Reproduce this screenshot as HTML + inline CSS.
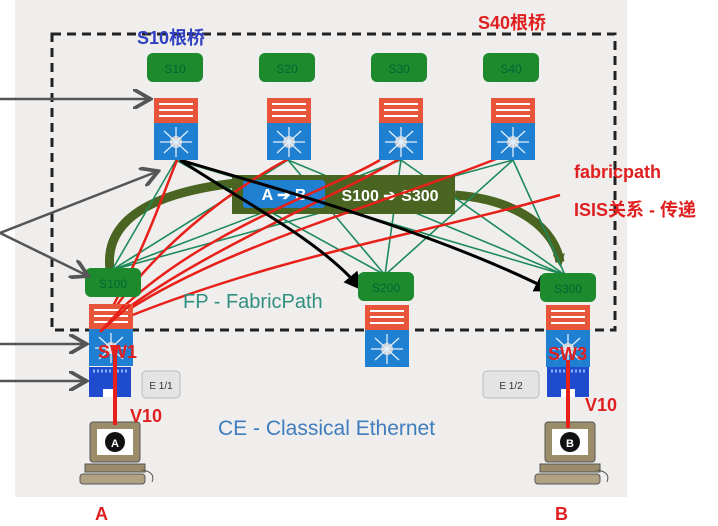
<!DOCTYPE html>
<html><head><meta charset="utf-8"><style>
html,body{margin:0;padding:0;background:#fff;width:718px;height:526px;overflow:hidden}
svg{display:block}
text{font-family:"Liberation Sans","Noto Sans CJK SC",sans-serif}
</style></head><body>
<svg width="718" height="526" viewBox="0 0 718 526" xmlns="http://www.w3.org/2000/svg">
<defs>
<g id="sw">
<rect x="0" y="0" width="44" height="25" fill="#e8553a"/>
<path d="M5 6h34M5 12h34M5 18h34" stroke="#fff" stroke-width="2"/>
<rect x="0" y="25" width="44" height="37" fill="#1f7fd0"/>
<circle cx="22" cy="44" r="6" fill="#ccc"/>
<path d="M6 44h32M22 29v30M10 33l24 22M34 33l-24 22" stroke="#e0f0ff" stroke-width="1.3"/>
</g>
<g id="lbl"><rect x="0" y="0" width="56" height="29" rx="6" fill="#1d8a2e"/></g>
<g id="ce"><rect x="0" y="0" width="42" height="30" fill="#1f4ccf"/><path d="M4 4h34" stroke="#8bb0ff" stroke-width="3" stroke-dasharray="2 2"/><rect x="14" y="22" width="14" height="8" fill="#fff"/></g>
<g id="pc">
<rect x="10" y="0" width="50" height="40" rx="3" fill="#9b8c6a" stroke="#555"/>
<rect x="17" y="7" width="36" height="26" fill="#fff"/>
<circle cx="35" cy="20" r="10" fill="#111"/>
<rect x="5" y="42" width="60" height="8" fill="#9b8c6a" stroke="#555"/>
<rect x="0" y="52" width="65" height="10" rx="3" fill="#b0a282" stroke="#555"/>
<path d="M62 48q14 2 10 12" stroke="#555" fill="none"/>
</g>
<marker id="ga" markerWidth="8" markerHeight="8" refX="6" refY="4" orient="auto"><path d="M0 0L7 4L0 8" fill="none" stroke="#555" stroke-width="1.5"/></marker>
<marker id="ba" markerWidth="6" markerHeight="6" refX="5" refY="3" orient="auto"><path d="M0 0L6 3L0 6z" fill="#000"/></marker>
<marker id="da" markerUnits="userSpaceOnUse" markerWidth="14" markerHeight="12" refX="8" refY="6" orient="auto"><path d="M0 0L14 6L0 12z" fill="#4a6421"/></marker>
</defs>
<rect x="15" y="0" width="612" height="497" fill="#f0eeec"/>
<rect x="52" y="34" width="563" height="296" fill="none" stroke="#222" stroke-width="3" stroke-dasharray="9 6"/>

<path d="M110 270 C100 190 230 180 300 180" stroke="#4a6421" stroke-width="9" fill="none"/>
<path d="M455 195 C520 200 555 230 560 262" stroke="#4a6421" stroke-width="9" fill="none" marker-end="url(#da)"/>

<g stroke="#1e8a5c" stroke-width="1.6" fill="none">
<path d="M176 160L112 270M176 160L385 275M176 160L565 275M288 160L112 270M288 160L385 275M288 160L565 275M401 160L112 270M401 160L385 275M401 160L565 275M513 160L112 270M513 160L385 275M513 160L565 275"/>
</g>
<rect x="232" y="175" width="223" height="39" fill="#4a6421"/>
<rect x="243" y="180" width="82" height="28" rx="3" fill="#1f7fd0"/>
<text x="284" y="200" font-size="16" fill="#fff" text-anchor="middle" font-weight="bold">A ➔ B</text>
<text x="390" y="201" font-size="16" fill="#fff" text-anchor="middle" font-weight="bold">S100 ➔ S300</text>

<g stroke="#e8201a" stroke-width="2.5" fill="none">
<path d="M178 158C160 200 150 240 100 330"/>
<path d="M290 158C230 190 150 250 100 330"/>
<path d="M401 158C330 200 180 260 100 330"/>
<path d="M513 152C400 200 200 250 100 330"/>
<path d="M380 160C330 190 200 230 115 315"/>
<path d="M560 195C420 235 280 255 120 320"/>
</g>
<g stroke="#000" stroke-width="3" fill="none">
<path d="M180 160C240 200 320 240 360 288" marker-end="url(#ba)"/>
<path d="M180 160C280 190 430 230 550 290" marker-end="url(#ba)"/>
</g>

<use href="#lbl" x="147" y="53"/><text x="175" y="73" font-size="12" text-anchor="middle" fill="#063">S10</text>
<use href="#lbl" x="259" y="53"/><text x="287" y="73" font-size="12" text-anchor="middle" fill="#063">S20</text>
<use href="#lbl" x="371" y="53"/><text x="399" y="73" font-size="12" text-anchor="middle" fill="#063">S30</text>
<use href="#lbl" x="483" y="53"/><text x="511" y="73" font-size="12" text-anchor="middle" fill="#063">S40</text>
<use href="#sw" x="154" y="98"/>
<use href="#sw" x="267" y="98"/>
<use href="#sw" x="379" y="98"/>
<use href="#sw" x="491" y="98"/>

<use href="#lbl" x="85" y="268"/><text x="113" y="288" font-size="12" text-anchor="middle" fill="#063">S100</text>
<use href="#lbl" x="358" y="272"/><text x="386" y="292" font-size="12" text-anchor="middle" fill="#063">S200</text>
<use href="#lbl" x="540" y="273"/><text x="568" y="293" font-size="12" text-anchor="middle" fill="#063">S300</text>
<use href="#sw" x="89" y="304"/>
<use href="#sw" x="365" y="305"/>
<use href="#sw" x="546" y="305"/>
<use href="#ce" x="89" y="367"/>
<use href="#ce" x="547" y="367"/>
<rect x="142" y="371" width="38" height="27" rx="4" fill="#e4e4e4" stroke="#bbb"/><text x="161" y="389" font-size="10" text-anchor="middle" fill="#333">E 1/1</text>
<rect x="483" y="371" width="56" height="27" rx="4" fill="#e4e4e4" stroke="#bbb"/><text x="511" y="389" font-size="10" text-anchor="middle" fill="#333">E 1/2</text>

<g stroke="#e8201a" stroke-width="2.5" fill="none"><path d="M125 305L100 332M130 305L100 332"/></g>

<g stroke="#555" stroke-width="2.5" fill="none" marker-end="url(#ga)">
<path d="M0 99H148"/><path d="M0 233L156 172"/><path d="M0 233L86 275"/><path d="M0 344H84"/><path d="M0 381H84"/>
</g>

<use href="#pc" x="80" y="422"/><text x="115" y="447" font-size="11" fill="#fff" text-anchor="middle" font-weight="bold">A</text>
<use href="#pc" x="535" y="422"/><text x="570" y="447" font-size="11" fill="#fff" text-anchor="middle" font-weight="bold">B</text>
<path d="M115 345V425M568 360V428" stroke="#e8201a" stroke-width="4"/>

<text x="183" y="308" font-size="20" fill="#2f8f80">FP - FabricPath</text>
<text x="218" y="435" font-size="21" fill="#3f7dbf">CE - Classical Ethernet</text>
<text x="137" y="44" font-size="18" font-weight="bold" fill="#3040c0">S10根桥</text>
<text x="478" y="29" font-size="18" font-weight="bold" fill="#e02020">S40根桥</text>
<text x="574" y="178" font-size="18" font-weight="bold" fill="#e02020">fabricpath</text>
<text x="574" y="216" font-size="18" font-weight="bold" fill="#e02020">ISIS关系 - 传递</text>
<text x="98" y="358" font-size="18" font-weight="bold" fill="#e02020">SW1</text>
<text x="548" y="360" font-size="18" font-weight="bold" fill="#e02020">SW3</text>
<text x="130" y="422" font-size="18" font-weight="bold" fill="#e02020">V10</text>
<text x="585" y="411" font-size="18" font-weight="bold" fill="#e02020">V10</text>
<text x="95" y="520" font-size="18" font-weight="bold" fill="#e02020">A</text>
<text x="555" y="520" font-size="18" font-weight="bold" fill="#e02020">B</text>
</svg>
</body></html>
